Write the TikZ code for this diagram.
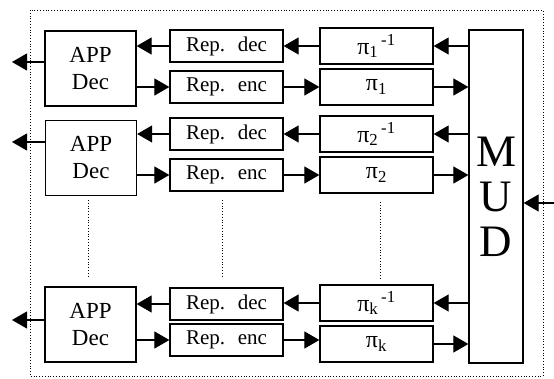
\documentclass[tikz,border=0pt]{standalone}
\usepackage{fontspec}
\setmainfont{Liberation Serif}
\usetikzlibrary{arrows.meta,calc}
\begin{document}
\begin{tikzpicture}[x=1pt,y=-1pt,
  box/.style={draw, line width=1.3pt, inner sep=0pt, anchor=center},
  app/.style={box, minimum width=91pt, minimum height=75pt, align=center, font=\fontsize{23}{27}\selectfont},
  rep/.style={box, minimum width=113pt, minimum height=32pt, font=\fontsize{21}{22}\selectfont},
  pib/.style={box, minimum width=113pt, minimum height=36pt, font=\fontsize{24}{24}\selectfont},
  arr/.style={line width=1.1pt, -{Triangle[length=15pt,width=17pt]}},
  dots/.style={dotted, line width=0.8pt}]
\useasboundingbox (0,0) rectangle (554,379);
\draw[dots] (30,10) rectangle (543,376);

% row 1
\node[app] (app1) at (90.5,68.5) {APP\\Dec};
\node[rep] (rd1) at (226.5,46) {Rep.\hspace{0.6em}dec};
\node[rep] (re1) at (226.5,87) {Rep.\hspace{0.6em}enc};
\node[pib] (pi1i) at (376.5,46) {π\textsubscript{1}\textsuperscript{\,-1}};
\node[pib] (pi1) at (376.5,87) {π\textsubscript{1}};
% row 2
\node[app] (app2) at (91,158) {APP\\Dec};
\node[rep] (rd2) at (226.5,134) {Rep.\hspace{0.6em}dec};
\node[rep] (re2) at (226.5,175) {Rep.\hspace{0.6em}enc};
\node[pib] (pi2i) at (376.5,134) {π\textsubscript{2}\textsuperscript{\,-1}};
\node[pib] (pi2) at (376.5,175) {π\textsubscript{2}};
% row k
\node[app] (app3) at (90.5,324.5) {APP\\Dec};
\node[rep] (rd3) at (226.5,304) {Rep.\hspace{0.6em}dec};
\node[rep] (re3) at (226.5,340) {Rep.\hspace{0.6em}enc};
\node[pib] (pi3i) at (376.5,303) {π\textsubscript{k}\textsuperscript{\,-1}};
\node[pib] (pi3) at (376.5,344) {π\textsubscript{k}};

\node[box, minimum width=54pt, minimum height=333pt, align=center, font=\fontsize{45}{45}\selectfont] (mud) at (496,196.5) {M\\U\\D};

% outputs and input
\coordinate (out1) at (12,62);
\coordinate (out2) at (12,142);
\coordinate (out3) at (12,320);
\coordinate (in) at (554,203);
\draw[arr] (in) -- (in -| mud.east);

\foreach \r in {1,2,3}{
  \draw[arr] (mud.west |- pi\r i) -- (pi\r i.east);
  \draw[arr] (pi\r.east) -- (pi\r.east -| mud.west);
  \draw[arr] (pi\r i.west) -- (pi\r i.west -| rd\r.east);
  \draw[arr] (re\r.east) -- (re\r.east -| pi\r.west);
  \draw[arr] (rd\r.west) -- (rd\r.west -| app\r.east);
  \draw[arr] (app\r.east |- re\r) -- (re\r.west);
  \draw[arr] (app\r.west |- out\r) -- (out\r);
}

% dotted continuation lines
\coordinate (d1a) at (88,200); \coordinate (d1b) at (88,278);
\coordinate (d2a) at (222,200); \coordinate (d2b) at (222,277);
\coordinate (d3a) at (380,202); \coordinate (d3b) at (380,280);
\draw[dots] (d1a) -- (d1b);
\draw[dots] (d2a) -- (d2b);
\draw[dots] (d3a) -- (d3b);
\end{tikzpicture}
\end{document}
